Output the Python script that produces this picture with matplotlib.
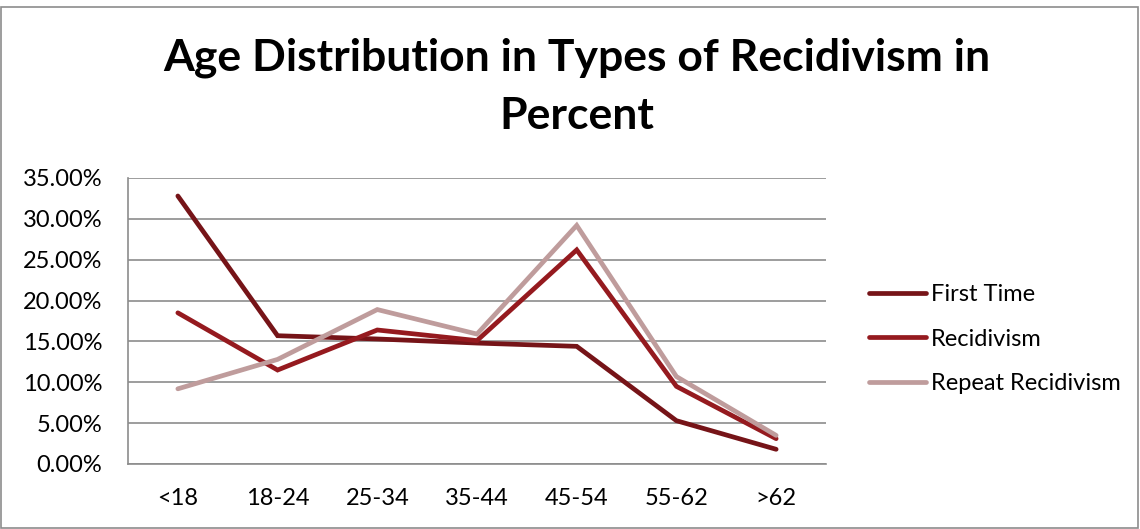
import matplotlib
matplotlib.use('Agg')
import matplotlib.pyplot as plt
from matplotlib.patches import Rectangle
from matplotlib.ticker import FuncFormatter

AGE_GROUPS = ["<18", "18-24", "25-34", "35-44", "45-54", "55-62", ">62"]

FIRST_TIME = [32.8, 15.7, 15.3, 14.8, 14.4, 5.3, 1.8]
RECIDIVISM = [18.5, 11.5, 16.4, 15.1, 26.2, 9.5, 3.1]
REPEAT_RECIDIVISM = [9.2, 12.8, 18.9, 15.9, 29.2, 10.7, 3.5]

SERIES = [
    ("First Time", FIRST_TIME, "#761418"),
    ("Recidivism", RECIDIVISM, "#951a1f"),
    ("Repeat Recidivism", REPEAT_RECIDIVISM, "#bf9c9c"),
]

plt.rcParams['font.family'] = ['Lato', 'DejaVu Sans']

fig = plt.figure(figsize=(11.4, 5.29), dpi=100)
ax = fig.add_axes([128 / 1140, 1 - 464 / 529, 698 / 1140, 286 / 529])

x = list(range(len(AGE_GROUPS)))
for name, vals, color in SERIES:
    ax.plot(x, [v / 100 for v in vals], color=color, linewidth=3.4,
            solid_capstyle='round', solid_joinstyle='miter', label=name, zorder=3)

ax.set_xlim(-0.5, len(AGE_GROUPS) - 0.5)
ax.set_ylim(0, 0.35)
ax.set_yticks([i * 0.05 for i in range(8)])
ax.yaxis.set_major_formatter(FuncFormatter(lambda v, _: f"{v * 100:.2f}%"))
ax.set_xticks(x)
ax.set_xticklabels(AGE_GROUPS)
ax.tick_params(axis='both', length=0, labelsize=17, colors='black')
ax.tick_params(axis='y', pad=18.5)
ax.tick_params(axis='x', pad=17)
ax.grid(True, axis='y', color='#8c8c8c', linewidth=1.2, zorder=0)
for side in ['top', 'right']:
    ax.spines[side].set_visible(False)
ax.spines['left'].set_color('#8c8c8c')
ax.spines['bottom'].set_color('#8c8c8c')
ax.spines['left'].set_linewidth(1.2)
ax.spines['bottom'].set_linewidth(1.2)

fig.text(577 / 1140, 1 - 58 / 529, "Age Distribution in Types of Recidivism in",
         ha='center', va='center', fontsize=32, fontweight='bold')
fig.text(577 / 1140, 1 - 116 / 529, "Percent",
         ha='center', va='center', fontsize=32, fontweight='bold')

fig.legend(loc='center left', bbox_to_anchor=(848 / 1140, 1 - 339 / 529),
           frameon=False, fontsize=17, handlelength=2.4, handletextpad=0.22,
           labelspacing=1.0)

fig.patches.append(Rectangle((0.001, 0.002), 0.997, 1 - 7 / 529 - 0.002,
                             transform=fig.transFigure, fill=False,
                             edgecolor='#8c8c8c', linewidth=1.2))

fig.savefig("out.png", dpi=100)
